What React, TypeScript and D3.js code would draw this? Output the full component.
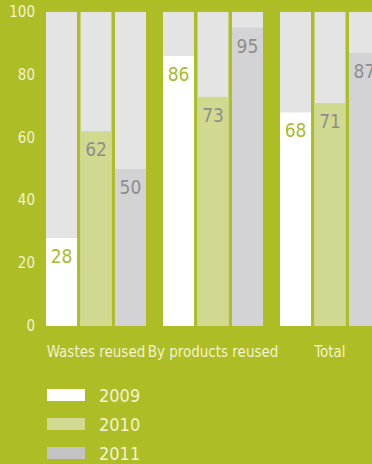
import React from "react";
import * as d3 from "d3";

const categories = ["Wastes reused", "By products reused", "Total"];
const years = ["2009", "2010", "2011"];
const values2009 = [28, 86, 68];
const values2010 = [62, 73, 71];
const values2011 = [50, 95, 87];
const yTicks = [0, 20, 40, 60, 80, 100];

const W = 372;
const H = 464;
const BG = "#adbd26";
const TRACK = "#e4e4e4";
const fills = ["#ffffff", "#d0d98f", "#d3d3d5"];
const legendFills = ["#ffffff", "#d0d98f", "#c3c3c5"];
const labelFills = ["#a9bb2a", "#8e8e8e", "#8e8e8e"];
const FONT = "'Liberation Sans Narrow', 'DejaVu Sans Condensed', 'Roboto Condensed', sans-serif";

export default function App() {
  const series = [values2009, values2010, values2011];
  const x0 = d3.scaleBand<string>().domain(categories).range([46, 380]).paddingInner(17 / 117).paddingOuter(0);
  const x1 = d3.scaleBand<string>().domain(years).range([0, x0.bandwidth()]).paddingInner(0.1).paddingOuter(0);
  const y = d3.scaleLinear().domain([0, 100]).range([326, 12]);

  return (
    <svg width={W} height={H} style={{ position: "absolute", left: 0, top: 0 }} fontFamily={FONT}>
      <rect x={0} y={0} width={W} height={H} fill={BG} />
      {yTicks.map((t) => (
        <text key={t} x={35} y={y(t) + 5} textAnchor="end" fontSize={15} fill="#f3f2cf">
          {t}
        </text>
      ))}
      {categories.map((c, ci) => (
        <g key={c} transform={`translate(${x0(c)},0)`}>
          {years.map((yr, si) => {
            const v = series[si][ci];
            const bx = x1(yr)!;
            const bw = x1.bandwidth();
            return (
              <g key={yr}>
                <rect x={bx} y={y(100)} width={bw} height={y(0) - y(100)} fill={TRACK} />
                <rect x={bx} y={y(v)} width={bw} height={y(0) - y(v)} fill={fills[si]} />
                <text x={bx + bw / 2} y={y(v) + 25} textAnchor="middle" fontSize={19} fill={labelFills[si]}>
                  {v}
                </text>
              </g>
            );
          })}
          <text x={x0.bandwidth() / 2} y={357} textAnchor="middle" fontSize={15} fill="#f3f2cf">
            {c}
          </text>
        </g>
      ))}
      {years.map((yr, i) => (
        <g key={yr} transform={`translate(47,${389 + i * 29})`}>
          <rect x={0} y={0} width={38} height={12} fill={legendFills[i]} />
          <text x={52} y={13} fontSize={18} fill="#f3f2cf">
            {yr}
          </text>
        </g>
      ))}
    </svg>
  );
}
